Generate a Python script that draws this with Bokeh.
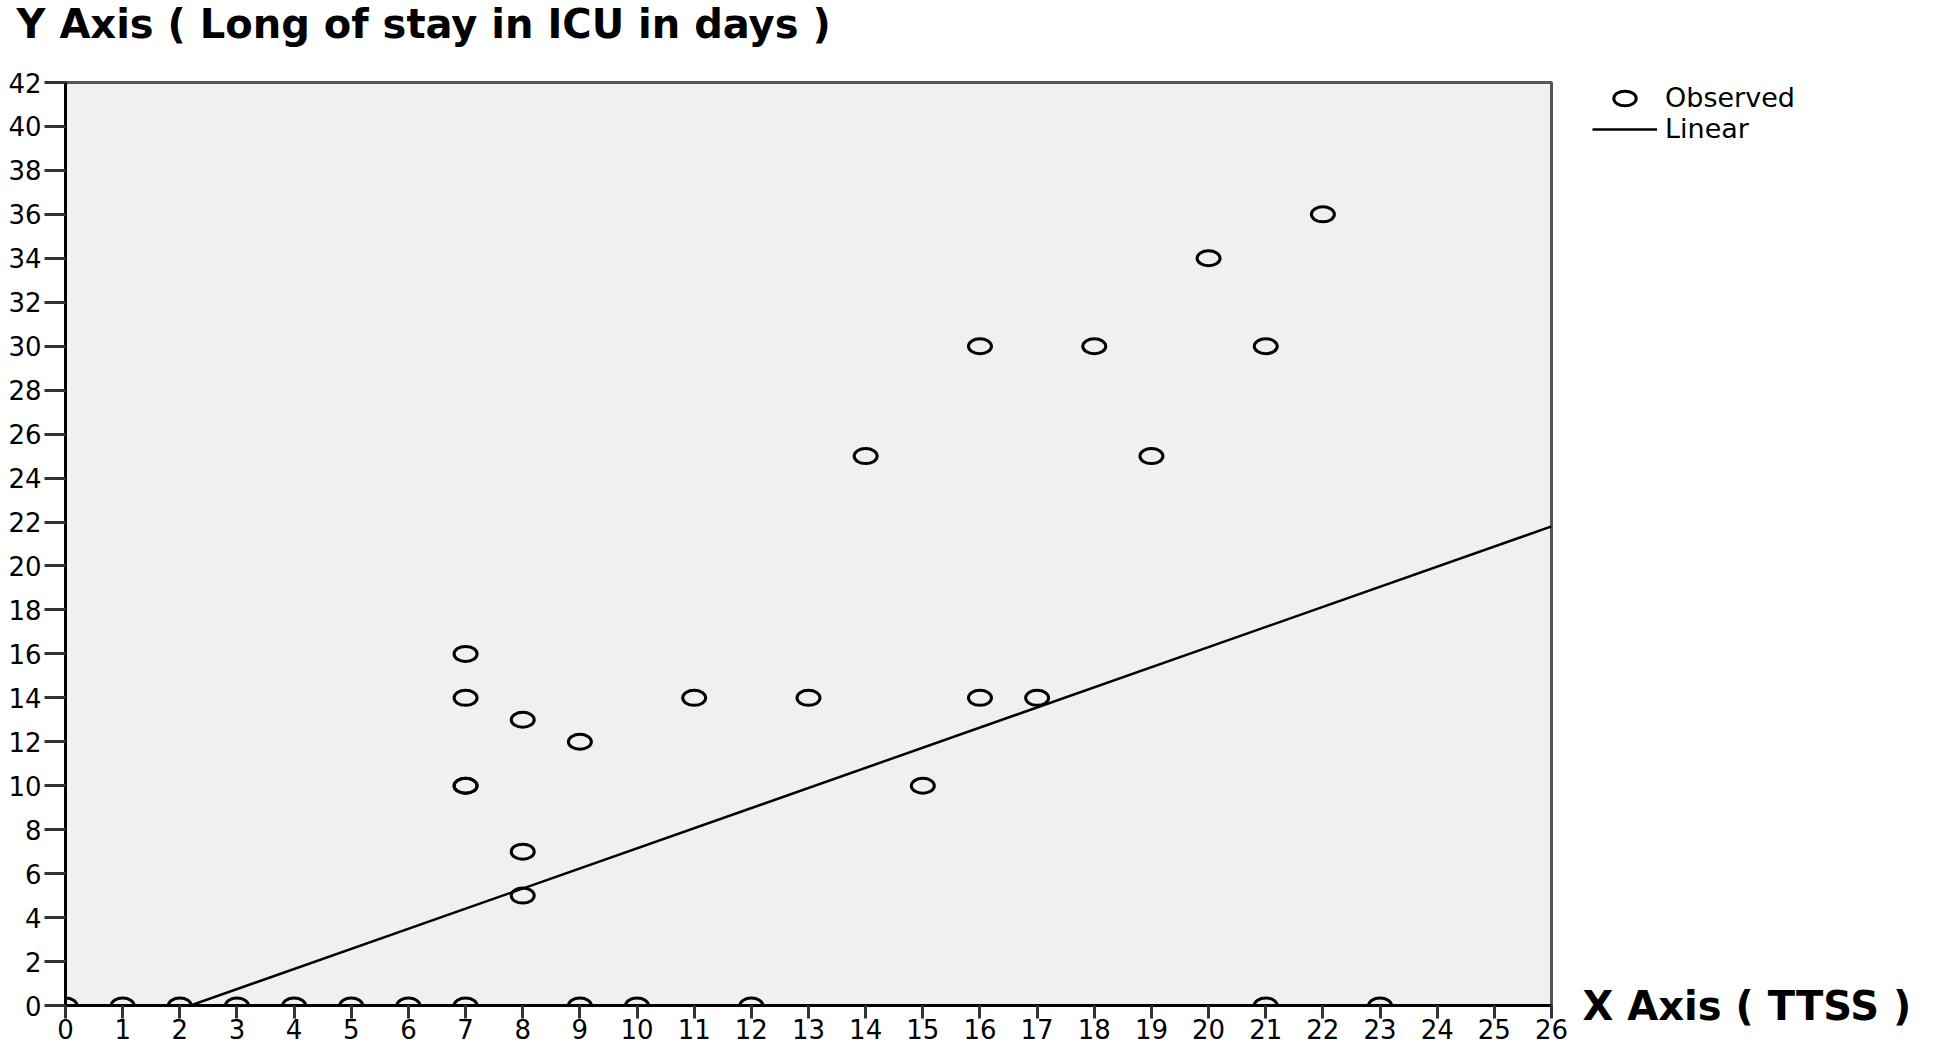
import numpy as np
from bokeh.plotting import figure
from bokeh.layouts import row, column
from bokeh.models import Range1d, Legend, LegendItem, FixedTicker, LinearAxis
from bokeh.core.properties import value
from bokeh.embed import file_html
from bokeh.resources import INLINE

# Observed data: TTSS (x) vs length of stay in ICU in days (y)
obs_x = [0, 1, 2, 3, 4, 5, 6, 7, 9, 10, 12, 21, 23,
         7, 7, 7, 7, 8, 8, 8, 9, 11, 13, 14, 15, 16, 16, 17, 18, 19, 20, 21, 22]
obs_y = [0, 0, 0, 0, 0, 0, 0, 0, 0, 0, 0, 0, 0,
         16, 14, 10, 10, 13, 7, 5, 12, 14, 14, 25, 10, 30, 14, 14, 30, 25, 34, 30, 36]

# Linear fit line endpoints
fit_x = [0, 26]
fit_y = [-2.0, 21.8]

x_ticks = list(range(0, 27))
y_ticks = list(range(0, 43, 2))

title_text = "Y Axis ( Long of stay in ICU in days )"
xlabel_text = "X Axis ( TTSS )"
legend_labels = ["Observed", "Linear"]

FONT = "DejaVu Sans"
W_TOP = 1936
H_TOP = 62
W_MAIN = 1916
H_MAIN = 985
W_LEG = 350
H_LEG = 80


def blank(width, height):
    f = figure(width=width, height=height, output_backend="svg", toolbar_location=None,
               x_range=Range1d(0, width), y_range=Range1d(0, height),
               x_axis_type=None, y_axis_type=None,
               min_border_left=0, min_border_right=0, min_border_top=0, min_border_bottom=0)
    f.outline_line_color = None
    f.background_fill_alpha = 0
    f.border_fill_alpha = 0
    return f


# Top strip holding the y-axis title
top = blank(W_TOP, H_TOP)
top.text(x=[16], y=[H_TOP - 23], text=[title_text], text_font=value(FONT),
         text_font_style="bold", text_font_size="40px", text_color="black",
         text_baseline="middle", text_align="left")

# Main scatter plot
p = figure(width=W_MAIN, height=H_MAIN, output_backend="svg", toolbar_location=None,
           x_range=Range1d(0, 26), y_range=Range1d(0, 42),
           min_border_left=65, min_border_right=W_MAIN - 65 - 1486,
           min_border_top=20, min_border_bottom=42)

p.border_fill_color = "white"
p.background_fill_color = "#f0f0f0"
p.outline_line_color = "#555555"
p.outline_line_width = 3
p.xgrid.visible = False
p.ygrid.visible = False

for ax, ticks in ((p.xaxis, x_ticks), (p.yaxis, y_ticks)):
    ax.ticker = FixedTicker(ticks=ticks)
    ax.axis_line_color = "black"
    ax.axis_line_width = 3
    ax.major_tick_line_color = "#333333"
    ax.major_tick_line_width = 3
    ax.minor_tick_line_color = None
    ax.major_tick_in = 0
    ax.major_label_text_font = FONT
    ax.major_label_text_font_size = "26px"
    ax.major_label_text_color = "black"

p.yaxis.major_tick_out = 21
p.yaxis.major_label_standoff = 3
p.xaxis.major_tick_out = 13
p.xaxis.major_label_standoff = 0

p.line(fit_x, fit_y, line_color="black", line_width=2.5)
p.ellipse(x=obs_x, y=obs_y, width=23, height=15, width_units="screen",
          height_units="screen", fill_color=None, line_color="black", line_width=3)

# x-axis title, written as the single label of a right-hand axis at y = 0
xlab_axis = LinearAxis(ticker=FixedTicker(ticks=[0]), major_label_overrides={0: xlabel_text},
                       axis_line_color=None, major_tick_line_color=None,
                       minor_tick_line_color=None, major_tick_in=0, major_tick_out=0,
                       major_label_standoff=31, major_label_text_font=FONT,
                       major_label_text_font_style="bold", major_label_text_font_size="40px",
                       major_label_text_color="black")
p.add_layout(xlab_axis, "right")

# Legend strip, laid over the top-right corner of the page
leg = blank(W_LEG, H_LEG)
proxy_obs = leg.ellipse(x=[np.nan], y=[np.nan], width=23, height=15, width_units="screen",
                        height_units="screen", fill_color=None, line_color="black", line_width=3)
proxy_fit = leg.line(x=[np.nan, np.nan], y=[np.nan, np.nan], line_color="black", line_width=2.5)
legend = Legend(items=[LegendItem(label=legend_labels[0], renderers=[proxy_obs]),
                       LegendItem(label=legend_labels[1], renderers=[proxy_fit])],
                location="top_left", padding=0, margin=4, spacing=0,
                glyph_width=65, glyph_height=28, label_standoff=8,
                label_text_font=FONT, label_text_font_size="27px",
                label_text_color="black", border_line_color=None,
                background_fill_alpha=0)
leg.add_layout(legend, "center")
leg.margin = (-(H_MAIN - 16), 0, 0, 1588)

layout = column(top, row(p), row(leg), spacing=0)
open("out.html", "w").write(file_html(layout, INLINE))
